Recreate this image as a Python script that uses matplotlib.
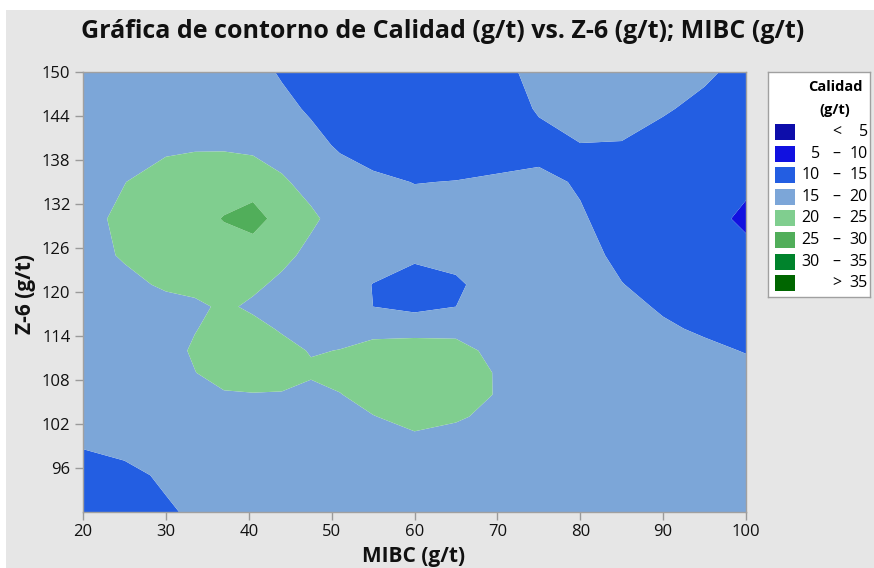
import numpy as np
import matplotlib.pyplot as plt
from matplotlib.patches import Rectangle

# grid of Calidad (g/t) values: columns follow mibc, rows follow z6 (top row = 150)
mibc = [20, 25, 30, 33.5, 37, 40.5, 44, 47.5, 51, 55, 60, 65, 70, 75, 80, 85, 90, 95, 100]
z6 = [150, 145, 140, 135, 130, 125, 121, 118, 115, 112, 109, 106, 103, 100, 95, 90]
calidad = [
    [17.5, 17.5, 17.5, 17.5, 17.0, 16.3, 14.6, 13.5, 12.8, 12.5, 12.3, 12.5, 13.8, 16.2, 17.2, 17.5, 17.0, 15.8, 13.5],
    [17.5, 17.5, 17.7, 17.8, 17.7, 17.2, 16.0, 14.5, 13.0, 12.3, 12.0, 12.3, 13.3, 15.3, 16.5, 16.5, 15.5, 13.8, 12.8],
    [17.6, 18.2, 19.0, 19.4, 19.4, 19.0, 18.0, 16.2, 14.5, 13.2, 12.8, 12.8, 13.3, 14.0, 14.9, 14.8, 13.2, 12.5, 12.0],
    [18.0, 19.9, 22.2, 22.8, 23.0, 22.6, 20.6, 18.5, 16.8, 15.8, 14.9, 15.1, 15.5, 15.7, 14.7, 13.5, 12.5, 11.8, 11.0],
    [18.6, 21.0, 23.0, 23.5, 25.2, 27.0, 23.0, 20.8, 18.3, 17.2, 16.6, 16.4, 16.4, 16.2, 15.3, 13.8, 12.8, 11.8, 9.0],
    [17.8, 20.6, 22.5, 23.0, 23.0, 22.2, 21.2, 18.8, 17.8, 16.8, 15.6, 16.0, 16.8, 17.0, 16.2, 14.2, 13.2, 12.5, 11.5],
    [17.3, 18.5, 20.8, 21.5, 21.5, 20.9, 19.0, 18.0, 16.8, 14.9, 13.5, 14.5, 16.5, 17.2, 16.8, 15.1, 13.8, 13.0, 12.5],
    [17.0, 17.5, 18.2, 19.0, 20.8, 19.2, 18.5, 17.8, 17.0, 15.0, 14.0, 15.0, 17.0, 17.5, 17.2, 16.2, 14.5, 13.5, 12.8],
    [17.0, 17.2, 18.0, 19.8, 21.5, 21.4, 19.5, 18.6, 18.5, 18.5, 17.8, 18.3, 17.8, 17.5, 17.5, 17.0, 15.6, 14.4, 13.6],
    [17.0, 17.2, 18.3, 20.6, 22.2, 22.4, 21.5, 19.7, 20.1, 21.6, 23.0, 22.0, 18.3, 17.6, 17.5, 17.3, 16.6, 15.9, 14.8],
    [17.0, 17.0, 17.8, 19.9, 22.0, 23.0, 22.3, 20.7, 21.8, 23.5, 24.3, 23.5, 19.5, 17.6, 17.4, 17.2, 16.8, 16.5, 16.2],
    [17.0, 17.0, 17.3, 18.4, 19.5, 19.7, 19.6, 18.5, 19.8, 22.2, 23.6, 23.0, 19.6, 17.5, 17.4, 17.3, 17.2, 17.0, 16.8],
    [17.0, 17.0, 17.0, 17.2, 17.6, 17.8, 17.8, 17.6, 18.0, 19.8, 21.8, 20.8, 18.3, 17.3, 17.3, 17.3, 17.3, 17.3, 17.3],
    [15.8, 16.5, 17.0, 17.0, 17.2, 17.3, 17.4, 17.5, 17.7, 18.3, 19.1, 17.8, 17.4, 17.3, 17.3, 17.3, 17.3, 17.3, 17.3],
    [13.0, 14.0, 15.6, 16.5, 17.0, 17.2, 17.2, 17.2, 17.2, 17.2, 17.2, 17.2, 17.2, 17.2, 17.2, 17.2, 17.2, 17.2, 17.2],
    [11.5, 12.5, 14.5, 15.6, 16.5, 17.0, 17.2, 17.2, 17.2, 17.2, 17.2, 17.2, 17.2, 17.2, 17.2, 17.2, 17.2, 17.2, 17.2],
]

levels = [5, 10, 15, 20, 25, 30, 35]
colors = ['#0D0DAA', '#1111E0', '#235EE2', '#7CA6D8', '#80CE8F', '#51AE5A', '#00832C', '#006600']

plt.rcParams['font.family'] = ['Open Sans', 'DejaVu Sans']

W, H = 874, 568
fig = plt.figure(figsize=(W / 100, H / 100), dpi=100)
fig.patch.set_facecolor('white')
fig.patches.append(Rectangle((6 / W, 0), 1, 1 - 10 / H, transform=fig.transFigure,
                             facecolor='#E6E6E6', edgecolor='none', zorder=-10))

ax = fig.add_axes([83 / W, 56 / H, 663 / W, 440 / H])
Z = np.array(calidad)[::-1]
Y = np.array(z6)[::-1]
ax.contourf(mibc, Y, Z, levels=[0] + levels + [100], colors=colors, antialiased=True)
ax.set_xlim(20, 100)
ax.set_ylim(90, 150)
ax.set_xticks(range(20, 101, 10))
ax.set_yticks(range(96, 151, 6))
ax.tick_params(direction='out', length=6, width=1, color='#9A9A9A',
               labelsize=12, labelcolor='#111111', pad=3)
for sp in ax.spines.values():
    sp.set_color('#A0A0A0')
    sp.set_linewidth(1)

fig.text(0.507, 1 - 38 / H, 'Gráfica de contorno de Calidad (g/t) vs. Z-6 (g/t); MIBC (g/t)',
         ha='center', va='baseline', fontsize=18, fontweight='bold', color='#111111')
fig.text(414 / W, 6 / H, 'MIBC (g/t)', ha='center', va='baseline',
         fontsize=15, fontweight='bold', color='#111111')
fig.text(26 / W, 1 - 294 / H, 'Z-6 (g/t)', ha='center', va='center', rotation=90,
         fontsize=15, fontweight='bold', color='#111111')

# legend box drawn by hand, coordinates in pixels from its top-left corner
lg = fig.add_axes([768 / W, (H - 297) / H, 102 / W, 225 / H])
lg.set_xlim(0, 102)
lg.set_ylim(225, 0)
lg.set_xticks([])
lg.set_yticks([])
lg.set_facecolor('white')
for sp in lg.spines.values():
    sp.set_color('#A0A0A0')
    sp.set_linewidth(1)
lg.text(67, 15, 'Calidad', ha='center', va='center', fontsize=10.5, fontweight='bold')
lg.text(67, 38, '(g/t)', ha='center', va='center', fontsize=10.5, fontweight='bold')

row_y = [60 + 21.6 * i for i in range(len(colors))]
for i, (c, yy) in enumerate(zip(colors, row_y)):
    lg.add_patch(Rectangle((7, yy - 8), 20, 16, facecolor=c, edgecolor='none'))
    if i == 0:
        lg.text(69, yy, '<', ha='center', va='center', fontsize=11.5)
        lg.text(100, yy, str(levels[0]), ha='right', va='center', fontsize=11.5)
    elif i == len(colors) - 1:
        lg.text(69, yy, '>', ha='center', va='center', fontsize=11.5)
        lg.text(100, yy, str(levels[-1]), ha='right', va='center', fontsize=11.5)
    else:
        lg.text(52, yy, str(levels[i - 1]), ha='right', va='center', fontsize=11.5)
        lg.text(68, yy, '–', ha='center', va='center', fontsize=11.5)
        lg.text(100, yy, str(levels[i]), ha='right', va='center', fontsize=11.5)

fig.savefig('out.png', dpi=100, facecolor=fig.get_facecolor())
